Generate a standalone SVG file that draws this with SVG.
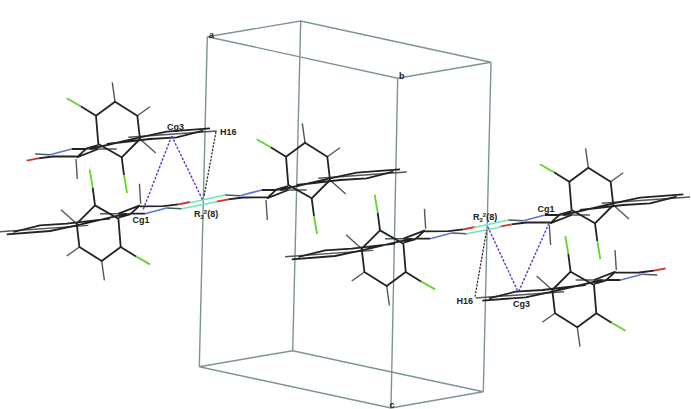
<svg xmlns="http://www.w3.org/2000/svg" width="691" height="409" viewBox="0 0 691 409">
<style>
.cell{fill:none;stroke:#7d9397;stroke-width:1.4}
.k{fill:none;stroke:#222;stroke-width:1.8;stroke-linejoin:round}
.g{fill:none;stroke:#50585c;stroke-width:1.4}
.cl{fill:none;stroke:#5fd62b;stroke-width:1.8}
.o{fill:none;stroke:#d2302c;stroke-width:1.8}
.n{fill:none;stroke:#5d74d8;stroke-width:1.7}
.hb{fill:none;stroke:#6fe6b4;stroke-width:1.5}
.pi{fill:none;stroke:#5a35d0;stroke-width:1.4;stroke-dasharray:2.5 1.5}
.hd{fill:none;stroke:#222;stroke-width:1.2;stroke-dasharray:2.2 1.3}
text{font-family:"Liberation Sans",Arial,sans-serif;font-size:9px;font-weight:bold;fill:#222}
</style>
<defs>
<g id="mol">
<path class="g" d="M305 142.7L302.3 123.3M327.3 156.7L340 147.7M330 180L345.7 194M276.7 190L306.7 190M318.3 178.3L406.7 172M266 200L267.3 220M225 195L240 195.7"/>
<path class="k" d="M305 142.7L327.3 156.7L330 180L311.7 198.3L288.3 185L286 156.7Z"/>
<path class="k" d="M286 156.7L270.7 147.3M311.7 198.3L314 216"/>
<path class="cl" d="M270.7 147.3L256.7 139.3M314 216L317 234"/>
<path class="k" d="M280 190L330 178.3L356.7 172.7L400 169.3M296.7 185L340 180L366.7 178.3L393.3 171.7M266.7 198.3L276.7 189.3L288.3 186M266.7 198.3L288.3 190M261.7 190L276.7 190M228.3 199.3L243 197.5L266.7 197.3"/>
<path class="n" d="M240 195.7L261.7 190"/>
<path class="o" d="M216.7 201.7L228.3 199.3"/>
</g>
</defs>
<g id="unit-cell">
<path class="cell" d="M207.3 36.7L300.7 21L491 62.3L397.7 78.3ZM199.3 366.7L292.7 350.7L483.3 391.7L391 408ZM207.3 36.7L199.3 366.7M300.7 21L292.7 350.7M491 62.3L483.3 391.7M397.7 78.3L391 408"/>
</g>
<g id="molecule-1"><use href="#mol" transform="translate(-190 -41)"/></g>
<g id="molecule-2"><use href="#mol" transform="matrix(-1 0 0 -1 406.7 403.7)"/></g>
<g id="molecule-3"><use href="#mol"/></g>
<g id="molecule-4"><use href="#mol" transform="matrix(-1 0 0 -1 691.7 428.7)"/></g>
<g id="molecule-5"><use href="#mol" transform="translate(283.3 25)"/></g>
<g id="molecule-6"><use href="#mol" transform="matrix(-1 0 0 -1 882.3 470)"/></g>
<g id="connectors">
<path class="hb" d="M225 195L190 202.7M216.7 201.7L181.7 208.7M508.3 220L473.3 227.7M501.7 226.7L466.7 233.7"/>
<path class="pi" d="M171.7 136L142.7 210.7M171.7 136L202.7 200M487.7 226.7L518.3 292.3M549 223.3L518.3 292.3"/>
<path class="hd" d="M216 131.7L204 196.7M475 296.7L486.7 230"/>
</g>
<g id="labels">
<text x="167" y="129.5">Cg3</text>
<text x="220" y="134.7">H16</text>
<text x="132.5" y="223">Cg1</text>
<text x="194" y="217">R<tspan font-size="6" dy="2">2</tspan><tspan font-size="6" dy="-5">2</tspan><tspan dy="3">(8)</tspan></text>
<text x="473" y="220">R<tspan font-size="6" dy="2">2</tspan><tspan font-size="6" dy="-5">2</tspan><tspan dy="3">(8)</tspan></text>
<text x="456.5" y="304">H16</text>
<text x="513" y="307">Cg3</text>
<text x="537.5" y="212">Cg1</text>
<text x="209" y="37.5" font-size="8">a</text>
<text x="399" y="78.5" font-size="8">b</text>
<text x="389.5" y="408" font-size="8">c</text>
</g>
</svg>
